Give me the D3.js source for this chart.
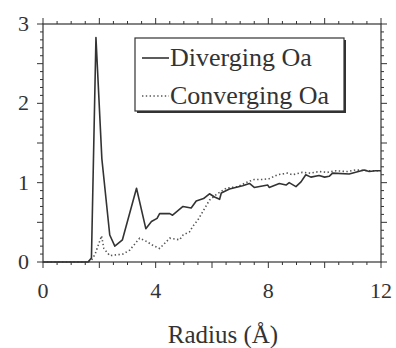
<!DOCTYPE html>
<meta charset="utf-8">
<style>
body { margin: 0; background: #fff; }
.chart text { font-family: "Liberation Serif", "Times New Roman", serif; fill: #333; }
</style>
<svg class="chart"></svg>
<script src="https://d3js.org/d3.v7.min.js"></script>
<script>

// radius values (Å) and g(r)
var divergingX = [0, 1.6, 1.72, 1.88, 2.09, 2.37, 2.55, 2.82, 3.32, 3.65, 3.85, 4.05, 4.14, 4.5, 4.6, 4.97, 5.26, 5.44, 5.7, 5.91, 6.09, 6.27, 6.33, 6.62, 7.09, 7.33, 7.5, 7.98, 8.03, 8.39, 8.63, 8.74, 8.98, 9.16, 9.33, 9.51, 9.8, 10.0, 10.16, 10.28, 10.87, 11.4, 11.58, 11.81, 12];
var divergingY = [0, 0, 0.05, 2.83, 1.3, 0.34, 0.2, 0.28, 0.93, 0.42, 0.51, 0.55, 0.61, 0.61, 0.59, 0.70, 0.68, 0.77, 0.80, 0.86, 0.82, 0.79, 0.87, 0.92, 0.96, 0.99, 0.94, 0.97, 0.94, 0.99, 0.97, 1.0, 0.95, 1.01, 1.10, 1.07, 1.09, 1.07, 1.08, 1.12, 1.11, 1.16, 1.14, 1.15, 1.15];

var convergingX = [0, 1.6, 1.72, 1.85, 2.08, 2.16, 2.37, 2.6, 2.84, 3.08, 3.43, 3.67, 3.9, 4.14, 4.5, 4.85, 4.97, 5.2, 5.32, 5.5, 5.91, 6.15, 6.5, 6.91, 7.27, 7.5, 7.8, 8.03, 8.33, 8.68, 8.86, 9.21, 9.5, 9.8, 10.1, 10.4, 10.8, 11.1, 11.58, 12];
var convergingY = [0, 0, 0.02, 0.1, 0.33, 0.17, 0.08, 0.09, 0.1, 0.15, 0.30, 0.26, 0.21, 0.17, 0.30, 0.28, 0.34, 0.38, 0.45, 0.53, 0.78, 0.85, 0.93, 0.95, 1.01, 1.04, 1.04, 1.05, 1.10, 1.12, 1.10, 1.13, 1.12, 1.14, 1.13, 1.15, 1.14, 1.16, 1.15, 1.15];

var seriesNames = ["Diverging Oa", "Converging Oa"];
var xTickLabels = [0, 4, 8, 12];
var yTickLabels = [0, 1, 2, 3];
var xTitle = "Radius (Å)";

var width = 396,
    height = 348,
    plotLeft = 43, plotRight = 381, plotTop = 24, plotBottom = 262;

var x = d3.scaleLinear().domain([0, 12]).range([plotLeft, plotRight]);
var y = d3.scaleLinear().domain([0, 3]).range([plotBottom, plotTop]);

var svg = d3.select(".chart")
    .attr("width", width)
    .attr("height", height);

var xMinor = d3.range(0, 12.001, 0.5), xMajor = d3.range(0, 12.001, 2);
var yMinor = d3.range(0, 3.001, 0.1), yMajor = d3.range(0, 3.001, 0.5);

function isMajor(v, arr) { return arr.some(function(m) { return Math.abs(m - v) < 1e-6; }); }

// frame
svg.append("rect")
    .attr("x", plotLeft).attr("y", plotTop)
    .attr("width", plotRight - plotLeft).attr("height", plotBottom - plotTop)
    .attr("fill", "none").attr("stroke", "#333").attr("stroke-width", 1.2);

// minor + major ticks on all four sides
var tickG = svg.append("g").attr("stroke", "#333").attr("stroke-width", 1);

xMinor.forEach(function(v) {
  var len = isMajor(v, xMajor) ? 6 : 3;
  tickG.append("line").attr("x1", x(v)).attr("x2", x(v)).attr("y1", plotBottom).attr("y2", plotBottom + len);
  tickG.append("line").attr("x1", x(v)).attr("x2", x(v)).attr("y1", plotTop).attr("y2", plotTop - len);
});
yMinor.forEach(function(v) {
  var len = isMajor(v, yMajor) ? 6 : 3;
  tickG.append("line").attr("y1", y(v)).attr("y2", y(v)).attr("x1", plotLeft).attr("x2", plotLeft - len);
  tickG.append("line").attr("y1", y(v)).attr("y2", y(v)).attr("x1", plotRight).attr("x2", plotRight + len);
});

// tick labels
svg.append("g").selectAll("text")
  .data(xTickLabels)
  .enter().append("text")
    .attr("x", function(d) { return x(d); })
    .attr("y", plotBottom + 36)
    .attr("text-anchor", "middle")
    .style("font-size", "22px")
    .text(function(d) { return d; });

svg.append("g").selectAll("text")
  .data(yTickLabels)
  .enter().append("text")
    .attr("x", 29)
    .attr("y", function(d) { return y(d) + 7; })
    .attr("text-anchor", "end")
    .style("font-size", "22px")
    .text(function(d) { return d; });

svg.append("text")
    .attr("x", 223)
    .attr("y", 343)
    .attr("text-anchor", "middle")
    .style("font-size", "25px")
    .text(xTitle);

// curves
var line = d3.line()
    .x(function(d) { return x(d[0]); })
    .y(function(d) { return y(d[1]); });

svg.append("path")
    .datum(d3.zip(convergingX, convergingY))
    .attr("d", line)
    .attr("fill", "none")
    .attr("stroke", "#555")
    .attr("stroke-width", 1.6)
    .attr("stroke-dasharray", "1.4,2.4");

svg.append("path")
    .datum(d3.zip(divergingX, divergingY))
    .attr("d", line)
    .attr("fill", "none")
    .attr("stroke", "#333")
    .attr("stroke-width", 1.6)
    .attr("stroke-linejoin", "round");

// legend
var legend = svg.append("g");
legend.append("rect")
    .attr("x", 137).attr("y", 40).attr("width", 209).attr("height", 73)
    .attr("fill", "#333");
legend.append("rect")
    .attr("x", 135).attr("y", 38).attr("width", 209).attr("height", 73)
    .attr("fill", "#fff").attr("stroke", "#333").attr("stroke-width", 1.2);

var rows = legend.selectAll("g.row")
  .data(seriesNames)
  .enter().append("g")
    .attr("class", "row")
    .attr("transform", function(d, i) { return "translate(0," + (i * 38) + ")"; });

rows.append("line")
    .attr("x1", 142).attr("x2", 169)
    .attr("y1", 58).attr("y2", 58)
    .attr("stroke", function(d, i) { return i ? "#555" : "#333"; })
    .attr("stroke-width", 1.6)
    .attr("stroke-dasharray", function(d, i) { return i ? "1.4,2.4" : null; });

rows.append("text")
    .attr("x", 170)
    .attr("y", 66)
    .style("font-size", "26px")
    .text(function(d) { return d; });

</script>
